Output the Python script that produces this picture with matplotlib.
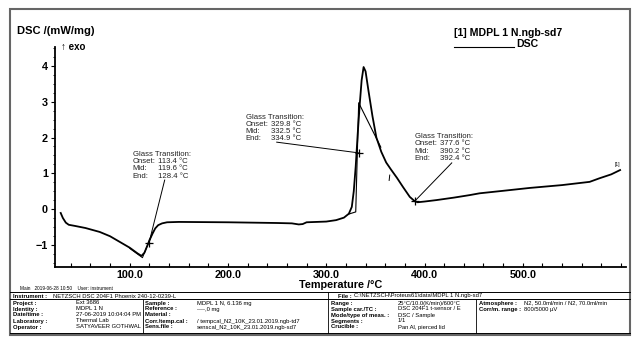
import numpy as np
import matplotlib
matplotlib.use("Agg")
import matplotlib.pyplot as plt
from matplotlib.ticker import MultipleLocator, FixedLocator, FormatStrFormatter
from matplotlib.patches import Rectangle

plt.rcParams['font.family'] = ['Liberation Sans', 'DejaVu Sans']

# DSC curve (temperature in degC, DSC in mW/mg)
temp = [29.8, 32, 35, 38, 44, 55, 69.5, 80, 90, 100, 108, 112, 115, 118, 120,
        123, 126, 129, 133, 138, 150, 200, 250, 265, 272, 276, 280, 290, 300,
        310, 318, 323, 326, 328, 330, 332, 334, 336, 338, 340, 343, 347, 351,
        356, 361, 366, 372, 378, 385, 390, 393, 400, 412, 430, 446, 456, 480,
        507, 540, 568, 578, 590, 599]
dsc = [-0.11, -0.25, -0.38, -0.44, -0.47, -0.53, -0.64, -0.76, -0.92, -1.08,
       -1.24, -1.31, -1.22, -1.02, -0.88, -0.70, -0.54, -0.45, -0.40, -0.37,
       -0.36, -0.37, -0.39, -0.40, -0.43, -0.42, -0.37, -0.36, -0.35, -0.31,
       -0.24, -0.13, 0.06, 0.5, 1.2, 2.1, 2.9, 3.6, 3.97, 3.85, 3.3, 2.6, 2.0,
       1.6, 1.3, 1.1, 0.87, 0.62, 0.34, 0.22, 0.19, 0.21, 0.25, 0.32, 0.39,
       0.44, 0.51, 0.59, 0.67, 0.76, 0.86, 0.97, 1.09]

# glass transitions: (onset, mid, end), marker point, text anchor, leader start
gt_values = [(113.4, 119.6, 128.4), (329.8, 332.5, 334.9), (377.6, 390.2, 392.4)]
gt_marks = [(119.6, -0.95), (333.0, 1.57), (390.0, 0.22)]
gt_text = [(103, 1.52), (218, 2.57), (390, 2.02)]
gt_leader = [(135.6, 0.81), (249.6, 1.87), (427.7, 1.29)]

x_major = [100, 200, 300, 400, 500]

W, H = 636, 339
fig = plt.figure(figsize=(W / 100, H / 100), dpi=100)

def fx(px):
    return px / W

def fy(py):
    return 1 - py / H

ax = fig.add_axes([fx(55), fy(267), fx(626) - fx(55), fy(47) - fy(267)])
ax.plot(temp, dsc, color='black', lw=1.3)

# tangent constructions
ax.plot([100, 113, 124], [-1.1, -1.36, -0.62], color='black', lw=0.7)
ax.plot([323, 330, 333, 355.5], [-0.14, -0.08, 2.97, 1.73], color='black', lw=0.8)
ax.plot([364.6, 364.0], [0.95, 0.80], color='black', lw=0.7)

line_step = 0.2  # data units between annotation lines
afs = 5.6
for (v1, v2, v3), (mx, my), (tx, ty), (lx, ly) in zip(gt_values, gt_marks, gt_text, gt_leader):
    ax.plot([lx, mx], [ly, my], color='black', lw=0.7)
    ax.plot(mx, my, marker='+', color='black', ms=6, mew=0.9)
    ax.text(tx, ty, "Glass Transition:", fontsize=afs, va='center', ha='left', color='#222222')
    for k, (lab, val) in enumerate([("Onset:", v1), ("Mid:", v2), ("End:", v3)]):
        yy = ty - (k + 1) * line_step
        ax.text(tx, yy, lab, fontsize=afs, va='center', ha='left', color='#222222')
        ax.text(tx + 26, yy, "%.1f °C" % val, fontsize=afs, va='center', ha='left', color='#222222')

ax.text(596.7, 1.17, "[1]", fontsize=3.5, ha='center', va='bottom')

ax.set_xlim(24, 605)
ax.set_ylim(-1.62, 4.53)
ax.spines['top'].set_visible(False)
ax.spines['right'].set_visible(False)
ax.spines['left'].set_linewidth(1.3)
ax.spines['bottom'].set_linewidth(1.3)

ax.xaxis.set_major_locator(FixedLocator(x_major))
ax.xaxis.set_minor_locator(MultipleLocator(20))
ax.xaxis.set_major_formatter(FormatStrFormatter('%.1f'))
ax.yaxis.set_major_locator(MultipleLocator(1))
ax.yaxis.set_minor_locator(MultipleLocator(0.25))
ax.tick_params(axis='x', which='both', direction='in', length=3, width=0.8, pad=2)
ax.tick_params(axis='y', which='major', direction='out', length=3, width=0.8, pad=2)
ax.tick_params(axis='y', which='minor', direction='out', length=1.5, width=0.6)
for lab in ax.get_xticklabels() + ax.get_yticklabels():
    lab.set_fontsize(7.8)
    lab.set_fontweight('bold')

# texts around the plot
fig.text(fx(17), fy(31), "DSC /(mW/mg)", fontsize=8, fontweight='bold', va='center')
fig.text(fx(61), fy(47), "↑ exo", fontsize=7, fontweight='bold', va='center')
fig.text(fx(341), fy(285), "Temperature /°C", fontsize=7.8, fontweight='bold',
         va='center', ha='center')
fig.text(fx(454), fy(33), "[1] MDPL 1 N.ngb-sd7", fontsize=7.6, fontweight='bold', va='center')
fig.text(fx(516), fy(44), "DSC", fontsize=7.6, fontweight='bold', va='center')
fig.add_artist(plt.Line2D([fx(454), fx(514)], [fy(47), fy(47)], color='black', lw=0.8))
fig.text(fx(20), fy(288), "Main   2019-06-28 10:50    User: instrument", fontsize=3.4, va='center')

# outer frame
fig.add_artist(Rectangle((fx(10), fy(335)), fx(630) - fx(10), fy(9) - fy(335),
                         fill=False, edgecolor='#666666', lw=1.5))

# info table
table_rows = [
    ("Project :", "Ext 3686", "Sample :", "MDPL 1 N, 6.136 mg",
     "Range :", "25°C/10.0(K/min)/600°C", "Atmosphere :", "N2, 50.0ml/min / N2, 70.0ml/min"),
    ("Identity :", "MDPL 1 N", "Reference :", "----,0 mg",
     "Sample car./TC :", "DSC 204F1 t-sensor / E", "Corr/m. range :", "800/5000 µV"),
    ("Date/time :", "27-06-2019 10:04:04 PM", "Material :", "",
     "Mode/type of meas. :", "DSC / Sample", "", ""),
    ("Laboratory :", "Thermal Lab", "Corr./temp.cal :", "/ tempcal_N2_10K_23.01.2019.ngb-td7",
     "Segments :", "1/1", "", ""),
    ("Operator :", "SATYAVEER GOTHWAL", "Sens.file :", "senscal_N2_10K_23.01.2019.ngb-sd7",
     "Crucible :", "Pan Al, pierced lid", "", ""),
]
col_x = [13, 76, 145, 197, 331, 398, 479, 524]
row_y = [303, 309, 315, 321, 327]
tfs = 4.2

for line_y in [292, 299, 333]:
    fig.add_artist(plt.Line2D([fx(10), fx(630)], [fy(line_y), fy(line_y)], color='black', lw=0.7))
fig.add_artist(plt.Line2D([fx(143), fx(143)], [fy(299), fy(333)], color='black', lw=0.6))
fig.add_artist(plt.Line2D([fx(328), fx(328)], [fy(292), fy(333)], color='black', lw=0.6))
fig.add_artist(plt.Line2D([fx(476), fx(476)], [fy(299), fy(333)], color='black', lw=0.6))

fig.text(fx(13), fy(296), "Instrument :", fontsize=tfs, fontweight='bold', va='center')
fig.text(fx(53), fy(296), "NETZSCH DSC 204F1 Phoenix 240-12-0239-L", fontsize=tfs, va='center')
fig.text(fx(338), fy(296), "File :", fontsize=tfs, fontweight='bold', va='center')
fig.text(fx(354), fy(296), "C:\\NETZSCH\\Proteus61\\data\\MDPL 1 N.ngb-sd7", fontsize=tfs, va='center')

for row, y in zip(table_rows, row_y):
    for i, (txt, x) in enumerate(zip(row, col_x)):
        if txt:
            fig.text(fx(x), fy(y), txt, fontsize=tfs, va='center',
                     fontweight='bold' if i % 2 == 0 else 'normal')

fig.savefig("out.png", dpi=100)
